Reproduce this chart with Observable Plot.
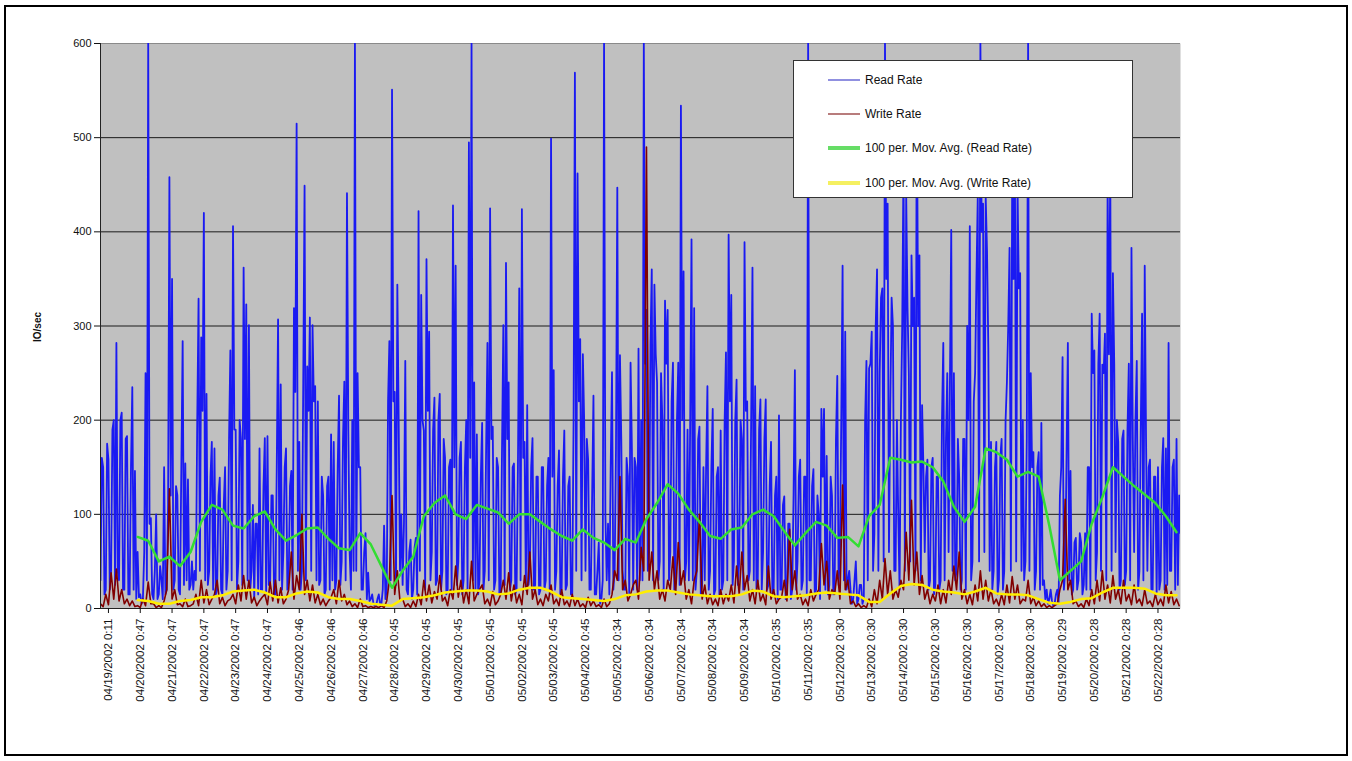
<!DOCTYPE html>
<html>
<head>
<meta charset="utf-8">
<script src="https://cdn.jsdelivr.net/npm/d3@7"></script>
<script src="https://cdn.jsdelivr.net/npm/@observablehq/plot@0.6"></script>
<style>
  body { margin: 0; background: #fff; font-family: 'Liberation Sans', Arial, sans-serif; }
  #wrap { position: relative; width: 1352px; height: 761px; background: #fff; overflow: hidden; }
  #chart { position: absolute; left: 0; top: 0; }
  #border { position: absolute; left: 4px; top: 5px; width: 1344px; height: 751px; border: 2px solid #000; box-sizing: border-box; pointer-events: none; }
  #legend { position: absolute; left: 793px; top: 60px; width: 340px; height: 138px; background: #fff; border: 1px solid #333; box-sizing: border-box; }
  .row { position: absolute; left: 33px; height: 20px; display: flex; align-items: center; font-size: 12px; color: #111; white-space: nowrap; }
  .row svg { margin-right: 4px; }
  #ylab { position: absolute; left: 37px; top: 327px; transform: translate(-50%, -50%) rotate(-90deg); font-size: 10px; font-weight: bold; color: #111; white-space: nowrap; }
</style>
</head>
<body>
<div id="wrap">
  <div id="chart"></div>
  <div id="ylab">IO/sec</div>
  <div id="legend"></div>
  <div id="border"></div>
</div>
<script>
// Category labels (one every 24 read samples)
const tickLabels = [
  "04/19/2002 0:11","04/20/2002 0:47","04/21/2002 0:47","04/22/2002 0:47","04/23/2002 0:47",
  "04/24/2002 0:47","04/25/2002 0:46","04/26/2002 0:46","04/27/2002 0:46","04/28/2002 0:45",
  "04/29/2002 0:45","04/30/2002 0:45","05/01/2002 0:45","05/02/2002 0:45","05/03/2002 0:45",
  "05/04/2002 0:45","05/05/2002 0:34","05/06/2002 0:34","05/07/2002 0:34","05/08/2002 0:34",
  "05/09/2002 0:34","05/10/2002 0:35","05/11/2002 0:35","05/12/2002 0:30","05/13/2002 0:30",
  "05/14/2002 0:30","05/15/2002 0:30","05/16/2002 0:30","05/17/2002 0:30","05/18/2002 0:30",
  "05/19/2002 0:29","05/20/2002 0:28","05/21/2002 0:28","05/22/2002 0:28"
];
const yTicks = [0, 100, 200, 300, 400, 500, 600];

// Read rate (IO/sec), 24 samples per labelled day
const readRate = [
  30,160,150,15,20,175,158,20,40,190,200,25,282,40,30,200,208,20,20,180,183,15,15,150,
  235,20,146,10,60,12,15,5,10,60,250,30,600,90,96,15,10,40,100,10,15,45,30,10,
  150,15,20,110,458,120,350,20,30,130,120,20,15,150,284,25,154,30,137,20,25,50,20,40,
  30,200,329,40,288,210,420,30,228,25,40,140,177,20,170,15,20,120,139,20,15,110,150,20,
  40,180,274,30,406,190,190,20,50,200,180,25,362,180,323,30,301,20,40,110,10,90,90,15,
  170,20,20,130,181,15,183,25,25,120,120,15,15,150,307,30,238,20,60,150,170,20,30,130,
  146,20,319,230,515,40,177,20,40,240,449,30,257,210,309,40,301,220,236,30,220,25,30,140,
  120,15,20,130,140,20,185,30,177,20,30,150,226,25,50,180,241,30,441,190,60,20,200,40,
  600,40,250,150,150,20,20,60,80,10,38,8,10,15,5,3,3,10,15,5,5,20,88,10,
  20,220,284,30,551,220,230,25,344,200,40,100,25,90,263,20,15,60,73,10,20,65,75,15,
  422,40,333,200,189,20,371,210,294,30,60,190,224,25,30,200,228,20,40,180,160,15,20,150,
  158,20,428,150,364,25,50,160,177,15,30,150,200,20,495,160,600,30,240,20,185,15,30,140,
  197,20,40,170,282,30,425,180,193,20,30,160,150,15,20,170,301,25,367,180,240,20,30,150,
  154,15,20,150,340,30,424,160,177,20,216,25,40,150,181,20,25,140,140,15,20,150,150,20,
  30,130,160,15,499,140,253,20,40,130,168,15,20,140,189,20,25,130,140,15,15,200,569,40,
  462,220,286,30,270,200,40,180,158,20,20,120,226,15,15,40,70,5,10,30,600,100,30,90,
  15,150,251,20,40,170,447,30,269,180,40,20,20,160,140,15,261,170,20,160,150,20,276,30,
  200,30,600,260,317,40,60,280,360,30,344,270,240,30,50,250,200,20,327,260,317,30,60,220,
  261,20,40,200,261,25,534,200,358,30,50,190,30,200,392,30,319,20,40,180,193,15,25,150,
  30,150,236,20,40,150,212,15,20,140,150,15,189,20,30,200,272,30,397,220,333,25,50,200,
  243,25,50,200,180,20,389,210,220,30,40,200,362,30,236,20,30,190,222,20,60,180,222,20,
  25,130,177,15,20,120,140,10,205,20,20,110,119,10,15,90,90,10,20,120,253,20,50,140,
  158,20,30,140,140,15,600,30,30,130,148,15,20,120,100,10,212,140,212,20,162,15,25,140,
  120,15,20,180,247,25,60,200,364,30,294,20,30,40,20,5,10,30,50,5,10,25,25,5,
  10,200,263,30,255,260,294,40,80,300,360,40,250,330,340,50,600,350,430,60,216,330,300,40,
  40,200,100,20,200,300,480,40,440,320,250,50,375,300,330,40,560,300,375,30,216,150,60,140,
  158,20,30,150,160,15,25,140,140,20,30,200,282,30,177,250,60,240,402,40,250,30,40,180,
  139,20,30,180,180,20,300,200,406,30,50,220,250,350,437,50,600,400,430,60,437,380,274,40,
  177,20,40,150,177,15,30,160,180,20,40,200,240,300,383,40,470,350,500,50,450,340,356,40,
  200,30,50,180,600,40,250,150,166,20,40,150,166,20,197,25,30,10,20,5,10,20,8,3,
  5,15,20,5,120,150,267,20,40,160,282,30,146,15,20,70,75,20,30,80,70,15,25,80,
  20,150,150,20,313,250,274,30,60,260,313,40,259,250,292,30,450,270,470,40,356,260,60,200,
  177,20,30,180,189,25,40,190,260,30,383,180,60,200,263,20,40,190,313,30,364,180,40,150,
  158,20,20,140,140,15,150,20,30,150,181,20,170,25,282,40,40,150,158,20,180,25,120,80
];

// Write rate (IO/sec), 12 samples per labelled day
const writeRate = [
  5,2,15,4,38,10,42,8,20,5,10,3,8,2,3,1,10,3,28,5,
  5,1,3,1,8,20,127,10,20,4,5,2,10,2,3,5,15,3,30,6,
  20,4,10,15,30,5,12,3,8,10,15,5,25,8,35,10,30,6,12,3,
  8,12,15,4,28,8,30,6,22,5,10,20,60,10,35,20,100,15,30,8,
  25,6,15,4,10,3,8,12,20,5,30,8,15,4,8,2,5,1,10,2,
  3,1,2,1,2,1,3,1,8,30,120,15,40,8,10,2,5,1,8,2,
  15,4,30,8,25,6,18,10,35,8,12,3,20,10,45,12,30,6,20,5,
  50,8,15,20,25,5,10,3,18,4,8,15,30,10,38,8,25,6,15,4,
  35,15,60,10,20,4,10,3,15,8,25,5,10,3,20,4,8,2,15,3,
  10,2,5,1,12,3,8,2,4,1,10,2,5,15,40,30,140,20,30,8,
  15,25,30,10,65,40,490,30,60,20,40,10,20,8,30,20,55,15,70,25,
  40,10,20,5,30,40,100,10,25,5,15,4,10,3,20,5,15,8,25,6,
  45,15,60,20,35,8,20,5,30,8,15,4,45,10,20,5,10,12,30,8,
  84,20,40,10,15,4,10,3,20,8,15,20,69,25,50,10,20,15,40,10,
  131,20,30,5,8,2,5,1,3,1,10,2,20,5,30,10,53,15,40,10,
  20,12,30,20,81,30,115,25,60,15,35,10,20,5,15,8,25,5,20,6,
  30,15,45,20,60,10,20,5,15,4,25,8,40,10,30,8,20,5,10,3,
  15,4,25,6,34,10,25,5,10,8,30,5,12,3,8,2,5,1,3,1,
  3,5,20,30,116,20,30,5,8,2,5,1,10,3,20,5,30,8,40,10,
  25,6,35,10,20,5,30,8,15,4,25,6,10,3,20,5,8,2,15,4,
  10,3,25,6,18,4,10,3
];

// 100 per. moving averages, one value every 4 write samples starting at sample 14
const readAvg = [
  76,72,50,55,45,60,92,110,105,88,
  85,98,103,84,72,78,85,86,74,64,
  62,80,68,45,22,40,55,98,112,120,
  100,95,110,106,102,90,100,100,92,84,
  77,72,84,75,70,62,74,70,95,112,
  132,122,105,92,77,74,84,86,100,105,
  98,82,67,80,92,88,75,76,66,98,
  110,160,158,155,156,150,135,108,92,108,
  170,166,158,140,145,140,88,30,40,50,
  90,118,150,140,130,121,112,98,81
];
const writeAvg = [
  9,8,5,5,8,9,12,12,14,18,
  19,20,17,12,12,16,18,17,12,10,
  10,8,5,4,3,10,11,12,14,17,
  18,19,19,18,15,16,20,22,22,18,
  12,11,10,9,8,10,14,15,18,19,
  19,17,15,14,13,13,13,15,19,18,
  13,12,13,14,16,17,16,15,14,7,
  7,16,24,26,25,20,18,17,15,18,
  22,16,15,15,14,10,6,5,7,10,
  11,17,22,22,22,21,16,14,14
];

const seriesNames = ["Read Rate", "Write Rate", "100 per. Mov. Avg. (Read Rate)", "100 per. Mov. Avg. (Write Rate)"];
const seriesColors = ["#1a1af2", "#800000", "#33dd33", "#ffee00"];
const seriesWidths = [1.8, 1.6, 2.5, 2.5];
const legendColors = ["#6b6bd6", "#a05050", "#66dd66", "#f5f060"];
const legendWidths = [1.5, 1.5, 4, 4];

// Build tables (x in write-sample units; read has 2 samples per unit)
const readData = readRate.map((v, i) => ({x: i / 2, y: v}));
const writeData = writeRate.map((v, n) => ({x: n, y: v}));
const readAvgData = readAvg.map((v, m) => ({x: 14 + 4 * m, y: v}));
const writeAvgData = writeAvg.map((v, m) => ({x: 14 + 4 * m, y: v}));
const tickIdx = tickLabels.map((_, i) => 3 + 12 * i);
const labelAt = new Map(tickIdx.map((t, i) => [t, tickLabels[i]]));

const chart = Plot.plot({
  width: 1352,
  height: 761,
  marginLeft: 100,
  marginRight: 172,
  marginTop: 43,
  marginBottom: 153,
  style: {fontFamily: "'Liberation Sans', Arial, sans-serif", fontSize: "11px", background: "transparent", color: "#111"},
  x: {domain: [0, (readRate.length - 1) / 2], axis: null},
  y: {domain: [0, 600], axis: null},
  marks: [
    Plot.frame({fill: "#c0c0c0", stroke: null}),
    Plot.ruleY(yTicks.slice(1, -1), {stroke: "#1a1a1a", strokeWidth: 1}),
    Plot.ruleY([600], {stroke: "#8a8a8a", strokeWidth: 1}),
    Plot.line(readData, {x: "x", y: "y", stroke: seriesColors[0], strokeWidth: seriesWidths[0], clip: true}),
    Plot.line(writeData, {x: "x", y: "y", stroke: seriesColors[1], strokeWidth: seriesWidths[1], clip: true}),
    Plot.line(readAvgData, {x: "x", y: "y", stroke: seriesColors[2], strokeWidth: seriesWidths[2], clip: true}),
    Plot.line(writeAvgData, {x: "x", y: "y", stroke: seriesColors[3], strokeWidth: seriesWidths[3], clip: true}),
    Plot.ruleX([0], {stroke: "#222", strokeWidth: 1}),
    Plot.ruleY([0], {stroke: "#222", strokeWidth: 1}),
    Plot.axisY({ticks: yTicks, tickSize: 6, tickPadding: 3, label: null, fontSize: 11}),
    Plot.axisX({ticks: tickIdx, tickFormat: d => labelAt.get(d), tickRotate: -90, tickSize: 5, tickPadding: 5, label: null, fontSize: 11.5})
  ]
});
document.getElementById("chart").appendChild(chart);

// Legend
const legend = document.getElementById("legend");
const rowTops = [9, 43, 77, 112];
seriesNames.forEach((name, i) => {
  const row = document.createElement("div");
  row.className = "row";
  row.style.top = rowTops[i] + "px";
  row.innerHTML = `<svg width="34" height="20"><line x1="1" x2="33" y1="10" y2="10" stroke="${legendColors[i]}" stroke-width="${legendWidths[i]}"/></svg><span>${name}</span>`;
  legend.appendChild(row);
});
</script>
</body>
</html>
